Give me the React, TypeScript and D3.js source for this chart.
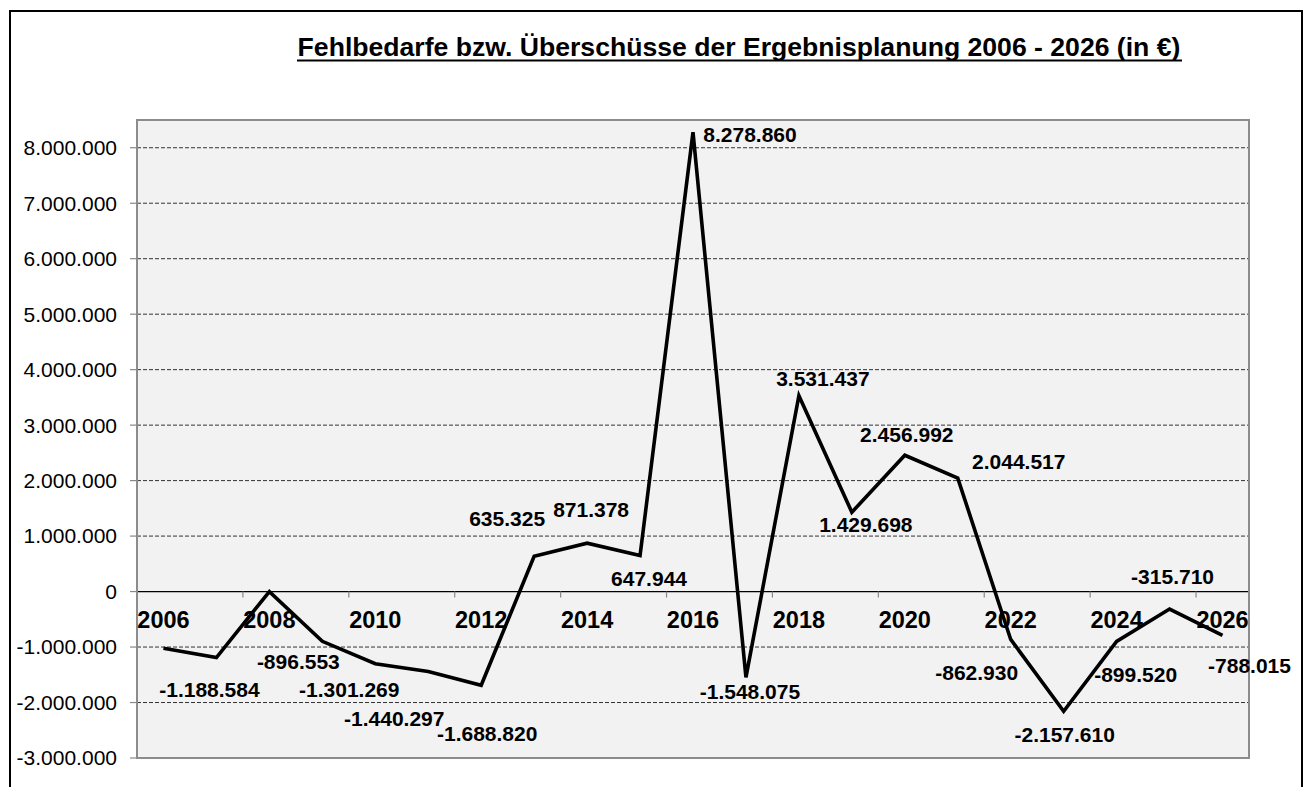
import React from "react";
import * as d3 from "d3";

const years: string[] = ["2006","2007","2008","2009","2010","2011","2012","2013","2014","2015","2016","2017","2018","2019","2020","2021","2022","2023","2024","2025","2026"];
const values: number[] = [-1020000, -1188584, 0, -896553, -1301269, -1440297, -1688820, 635325, 871378, 647944, 8278860, -1548075, 3531437, 1429698, 2456992, 2044517, -862930, -2157610, -899520, -315710, -788015];
const showLabel: boolean[] = [false, true, false, true, true, true, true, true, true, true, true, true, true, true, true, true, true, true, true, true, true];
// label offsets relative to the point (dx = centre shift, dy = baseline shift)
const labelDx: number[] = [0, -7, 0, -24, -26, -34, 6, -27, 4, 9, 57, 4, 24, 14, 2, 61, -34, 1, 19, 3, 27];
const labelDy: number[] = [0, 39, 0, 28, 33, 55, 56, -30, -26, 30, 10, 22, -10, 20, -13, -9, 41, 31, 41, -25, 38];
const yTicks: number[] = [-3000000, -2000000, -1000000, 0, 1000000, 2000000, 3000000, 4000000, 5000000, 6000000, 7000000, 8000000];
const xLabelYears: string[] = ["2006","2008","2010","2012","2014","2016","2018","2020","2022","2024","2026"];
const title = "Fehlbedarfe bzw. Überschüsse der Ergebnisplanung 2006 - 2026 (in €)";

const W = 1308, H = 787;
const plot = { left: 137, right: 1249, top: 120, bottom: 758 };
const FONT = "Arial, 'Liberation Sans', Helvetica, sans-serif";

const loc = d3.formatLocale({ decimal: ",", thousands: ".", grouping: [3], currency: ["", "€"], minus: "-" } as any);
const fmt = loc.format(",d");

export default function App() {
  const x = d3.scaleBand<string>().domain(years).range([plot.left, plot.right]).padding(0);
  const bw = x.bandwidth();
  const cx = (yr: string) => (x(yr) as number) + bw / 2;
  const y = d3.scaleLinear().domain([-3000000, 8500000]).range([plot.bottom, plot.top]);
  const line = d3.line<number>().x((_, i) => cx(years[i])).y((v) => y(v));
  const y0 = y(0);
  const tickPositions = years.filter((_, i) => i % 2 === 0).map((yr) => x(yr) as number);
  tickPositions.push(plot.right);

  return (
    <svg width={W} height={H} style={{ position: "absolute", left: 0, top: 0, background: "#fff" }} fontFamily={FONT}>
      <rect x={10} y={11} width={1292} height={800} fill="#fff" stroke="#000" strokeWidth={2} />
      <text x={739} y={56} textAnchor="middle" fontSize={26.6} fontWeight="bold">{title}</text>
      <line x1={297} x2={1182} y1={60.5} y2={60.5} stroke="#000" strokeWidth={2} />
      <rect x={plot.left} y={plot.top} width={plot.right - plot.left} height={plot.bottom - plot.top} fill="#F2F2F2" />
      {yTicks.filter((t) => t !== 0).map((t) => (
        <line key={"g" + t} x1={plot.left} x2={plot.right} y1={y(t)} y2={y(t)} stroke="#333" strokeWidth={1} strokeDasharray="4,2" />
      ))}
      <line x1={plot.left} x2={plot.right} y1={y0} y2={y0} stroke="#000" strokeWidth={1.2} />
      {tickPositions.map((p, i) => (
        <line key={"xt" + i} x1={p} x2={p} y1={y0} y2={y0 + 6} stroke="#888" strokeWidth={1.2} />
      ))}
      <rect x={plot.left} y={plot.top} width={plot.right - plot.left} height={plot.bottom - plot.top} fill="none" stroke="#8c8c8c" strokeWidth={2} />
      {yTicks.map((t) => (
        <g key={"yt" + t}>
          <line x1={plot.left - 7} x2={plot.left} y1={y(t)} y2={y(t)} stroke="#888" strokeWidth={1.2} />
          <text x={117} y={y(t) + 7.4} textAnchor="end" fontSize={21}>{fmt(t)}</text>
        </g>
      ))}
      {xLabelYears.map((yr) => (
        <text key={"xl" + yr} x={cx(yr)} y={628} textAnchor="middle" fontSize={23.5} fontWeight="bold">{yr}</text>
      ))}
      <path d={line(values) || ""} fill="none" stroke="#000" strokeWidth={3.6} strokeLinejoin="miter" />
      {values.map((v, i) =>
        showLabel[i] ? (
          <text key={"dl" + i} x={cx(years[i]) + labelDx[i]} y={y(v) + labelDy[i]} textAnchor="middle" fontSize={21} fontWeight="bold">{fmt(v)}</text>
        ) : null
      )}
    </svg>
  );
}
